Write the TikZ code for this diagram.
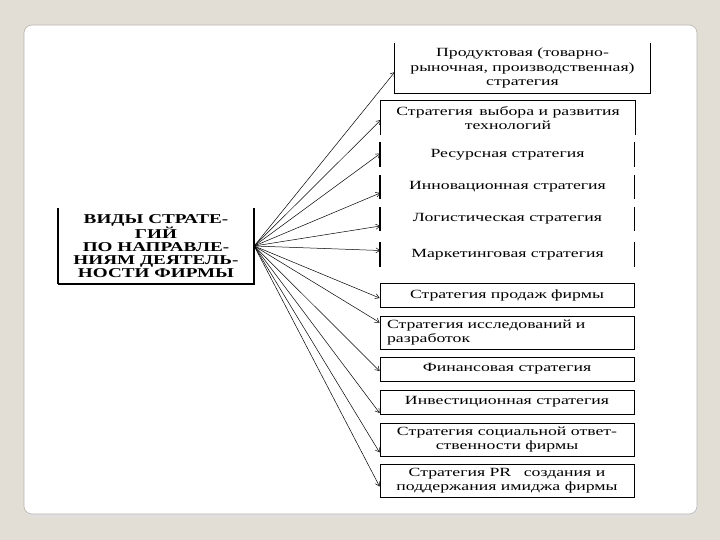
\documentclass[tikz,border=0pt]{standalone}
\usepackage{fontspec}
\setmainfont[FakeStretch=1.42]{Liberation Serif}
\usetikzlibrary{arrows.meta, positioning}
\tikzstyle{arrow} = [line width=0.5pt, -{Straight Barb[length=4pt,width=5pt]}]
\definecolor{slidebg}{HTML}{E3DED5}
\definecolor{slideedge}{HTML}{B9B5AD}

\begin{document}
\begin{tikzpicture}[
  x=1pt, y=-1pt,
  every node/.style={font=\fontsize{12.5}{14.5}\selectfont, inner sep=1pt},
  kind/.style={draw, line width=0.8pt, minimum width=254pt, minimum height=24pt, align=center},
  open/.style={minimum width=254pt, minimum height=24pt, align=center},
  main/.style={minimum width=196pt, minimum height=76pt, align=center,
    font=\fontsize{13.5}{13}\selectfont\bfseries}
]
\useasboundingbox (0,0) rectangle (720,540);

% Slide
\fill[slidebg] (0,0) rectangle (720,540);
\fill[black!12, rounded corners=8pt] (25,27) rectangle (698,517);
\filldraw[fill=white, draw=slideedge, line width=0.6pt, rounded corners=8pt] (24,25) rectangle (697,514);

% Nodes
\node[main] (src) at (156,246) {ВИДЫ СТРАТЕ-\\ГИЙ\\ПО НАПРАВЛЕ-\\НИЯМ ДЕЯТЕЛЬ-\\НОСТИ ФИРМЫ};

\node[open, minimum width=255pt, minimum height=50pt] (b1) at (522.5,68)
  {Продуктовая (товарно-\\рыночная, производственная)\\стратегия};
\node[open, minimum height=34pt] (b2) at (508,118) {Стратегия\, выбора и развития\\технологий};
\node[open] (b3) at (507.5,154.5) {Ресурсная стратегия};
\node[open] (b4) at (507.5,187) {Инновационная стратегия};
\node[open] (b5) at (507.5,219) {Логистическая стратегия};
\node[open] (b6) at (507.5,254.5) {Маркетинговая стратегия};

\node[kind] (b7) at (507,295) {Стратегия продаж фирмы};
\node[kind, minimum height=33pt, text width=240pt, align=left] (b8) at (507,332.5)
  {Стратегия исследований и\\разработок};
\node[kind] (b9) at (507,369) {Финансовая стратегия};
\node[kind] (b10) at (507,402) {Инвестиционная стратегия};
\node[kind, minimum height=33pt] (b11) at (507,439.5) {Стратегия социальной ответ-\\ственности фирмы};
\node[kind, minimum height=33pt] (b12) at (507,480.5) {Стратегия PR\quad создания и\\поддержания имиджа фирмы};

% Borders that show only in part
\draw[line width=1.6pt] (src.north west) -- (src.south west);
\draw[line width=1.6pt] (src.south west) -- (src.south east) -- (src.north east);
\draw[line width=0.8pt] (b1.north west) -- (b1.south west) -- (b1.south east) -- (b1.north east);
\draw[line width=0.8pt] (b2.south west) -- (b2.north west) -- (b2.north east) -- (b2.south east);
\foreach \n in {b3,b4,b5,b6} {
  \draw[line width=2pt] (\n.north west) -- (\n.south west);
  \draw[line width=0.8pt] (\n.north east) -- (\n.south east);
}

% Arrows from the main box
\foreach \n/\dy in {b1/-4, b2/-2, b3/1, b4/-6, b5/-7, b6/4, b7/-3, b8/10, b9/-2, b10/-11, b11/-13, b12/-6}
  \draw[arrow] (src.east) -- ([yshift=\dy pt]\n.west);
\end{tikzpicture}
\end{document}
